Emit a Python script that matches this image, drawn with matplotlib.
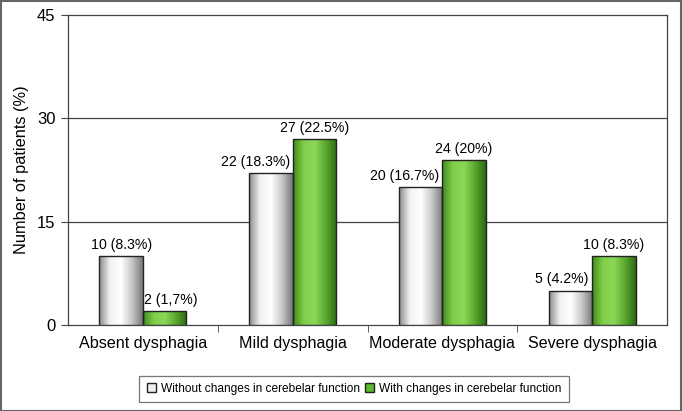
import numpy as np
import matplotlib
matplotlib.use("Agg")
import matplotlib.pyplot as plt
from matplotlib.patches import Rectangle
from matplotlib.colors import LinearSegmentedColormap

plt.rcParams['font.family'] = ['Liberation Sans', 'DejaVu Sans']

categories = ["Absent dysphagia", "Mild dysphagia", "Moderate dysphagia", "Severe dysphagia"]
without_vals = [10, 22, 20, 5]
with_vals = [2, 27, 24, 10]
without_labels = ["10 (8.3%)", "22 (18.3%)", "20 (16.7%)", "5 (4.2%)"]
with_labels = ["2 (1,7%)", "27 (22.5%)", "24 (20%)", "10 (8.3%)"]
series_names = ["Without changes in cerebelar function", "With changes in cerebelar function"]
yticks = [0, 15, 30, 45]

# label placement style (horizontal offset in bar widths)
without_label_shift = [0.0, -0.35, -0.38, -0.2]
with_label_shift = [0.15, 0.0, 0.0, 0.0]

fig = plt.figure(figsize=(6.82, 4.11), dpi=100)
ax = fig.add_axes([68/682, 1-325/411, 599/682, 310/411])

gray_cmap = LinearSegmentedColormap.from_list("g", ["#8a8a8a", "#f2f2f2", "#ffffff", "#c8c8c8", "#777777"])
green_cmap = LinearSegmentedColormap.from_list("gr", ["#3f8a1c", "#80cf4a", "#8cd658", "#5aa82e", "#2c6a12"])

x = np.arange(len(categories))
w = 0.29
grad = np.linspace(0, 1, 256).reshape(1, -1)

def draw_bars(xs, vals, cmap):
    for xi, v in zip(xs, vals):
        rect = Rectangle((xi - w/2, 0), w, v, facecolor='none', edgecolor='#222222', lw=1.0, zorder=4)
        ax.add_patch(rect)
        im = ax.imshow(grad, cmap=cmap, aspect='auto', extent=(xi - w/2, xi + w/2, 0, v), zorder=3)
        im.set_clip_path(rect)

draw_bars(x - w/2, without_vals, gray_cmap)
draw_bars(x + w/2, with_vals, green_cmap)
ax.set_xlim(-0.5, len(categories) - 0.5)
ax.set_ylim(0, 45)
ax.set_aspect('auto')

for xi, v, lab, s in zip(x - w/2, without_vals, without_labels, without_label_shift):
    ax.text(xi + s * w, v + 0.6, lab, ha='center', va='bottom', fontsize=10.2)
for xi, v, lab, s in zip(x + w/2, with_vals, with_labels, with_label_shift):
    ax.text(xi + s * w, v + 0.6, lab, ha='center', va='bottom', fontsize=10.2)

ax.set_yticks(yticks)
ax.set_yticklabels([str(t) for t in yticks], fontsize=12)
for t in [15, 30]:
    ax.axhline(t, color='#444444', lw=0.9, zorder=1)
ax.set_xticks(x)
ax.set_xticklabels(categories, fontsize=11.6)
ax.tick_params(axis='x', length=0, pad=8)
ax.set_xticks([0.5, 1.5, 2.5], minor=True)
ax.tick_params(axis='x', which='minor', length=5, color='#444444')
ax.tick_params(axis='y', length=5, color='#444444', pad=4)
ax.set_ylabel("Number of patients (%)", fontsize=11.8, labelpad=6)
for s in ax.spines.values():
    s.set_color('#444444')
    s.set_linewidth(0.9)

handles = [Rectangle((0, 0), 1, 1, facecolor='#f0f0f0', edgecolor='#222222'),
           Rectangle((0, 0), 1, 1, facecolor='#5cb82c', edgecolor='#222222')]
leg = fig.legend(handles, series_names, loc='center', bbox_to_anchor=(354/682, 1-389/411),
                 ncol=2, fontsize=8.6, frameon=True, fancybox=False, edgecolor='#555555',
                 handlelength=0.8, handleheight=0.8, handletextpad=0.4, columnspacing=0.4,
                 borderpad=0.6)
leg.get_frame().set_linewidth(0.9)

fig.add_artist(Rectangle((0.001, 0.001), 0.997, 0.997, transform=fig.transFigure,
                         facecolor='none', edgecolor='#666666', lw=1.5))

fig.savefig("out.png", dpi=100)
